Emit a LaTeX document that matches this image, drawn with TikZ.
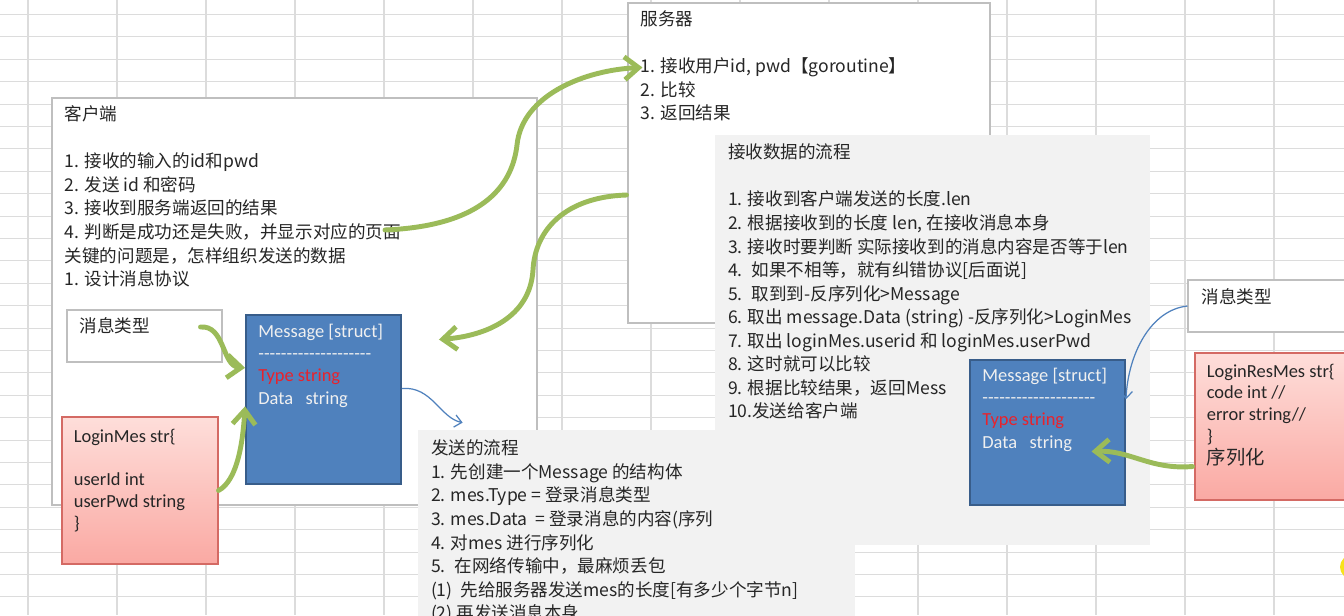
\documentclass[tikz,border=0pt]{standalone}
\usepackage{fontspec}
\setmainfont{Noto Sans CJK SC}
\newfontfamily\en{Carlito}[Ligatures=TeXOff]
\usetikzlibrary{arrows.meta, fit, positioning}

\definecolor{gridgray}{HTML}{DCDCDC}
\definecolor{boxline}{HTML}{BFBFBF}
\definecolor{flowgray}{HTML}{F2F2F2}
\definecolor{msgblue}{HTML}{4F81BD}
\definecolor{msgline}{HTML}{385D8A}
\definecolor{pinktop}{HTML}{FEDEDA}
\definecolor{pinkbot}{HTML}{FAA9A3}
\definecolor{pinkline}{HTML}{D46A64}
\definecolor{arrowgreen}{HTML}{9BBB59}
\definecolor{typered}{HTML}{E8222C}
\definecolor{inkgray}{HTML}{262626}
\definecolor{cursor}{HTML}{F7E21B}

\tikzset{
  gridline/.style={gridgray, line width=0.6pt},
  whitebox/.style={draw=boxline, fill=white, line width=0.6pt, inner sep=0pt},
  flowbox/.style={fill=flowgray, inner sep=0pt},
  structbox/.style={draw=msgline, fill=msgblue, line width=1.1pt, inner sep=0pt},
  pinkbox/.style={draw=pinkline, top color=pinktop, bottom color=pinkbot, line width=0.6pt, inner sep=0pt},
  zhtext/.style={anchor=north west, inner sep=0pt, align=left, text=inkgray, font=\fontsize{10}{13.4}\selectfont},
  entext/.style={anchor=north west, inner sep=0pt, align=left, text=inkgray, font=\en\fontsize{10.5}{12.4}\selectfont},
  fieldtext/.style={entext, text=white!94!black, font=\en\fontsize{10.5}{12.6}\selectfont},
  bigarrow/.style={arrowgreen, line width=2.8pt, line cap=round, -{Straight Barb[length=8pt, width=13pt]}},
  thinarrow/.style={msgblue, line width=0.7pt, -{Straight Barb[length=4pt, width=7pt]}}
}

\begin{document}
\begin{tikzpicture}[x=0.02cm, y=-0.02cm]
\useasboundingbox (0,0) rectangle (1344,615);
\fill[white] (0,0) rectangle (1344,615);

% spreadsheet grid
\foreach \gx in {28,117,...,1274}
  \draw[gridline] (\gx,0) -- (\gx,615);
\foreach \k in {0,...,26}
  \draw[gridline] (0,{14.5+22.4*\k}) -- (1344,{14.5+22.4*\k});

% server
\node[whitebox, fit={(628,3) (990,323)}] (server) {};
\node[zhtext, below right=0.16cm and 0.26cm of server.north west] (servertext) {服务器\\[13.4pt]
  1. 接收用户id, pwd【goroutine】\\
  2. 比较\\
  3. 返回结果};

% client
\node[whitebox, fit={(52,98) (537,505)}] (client) {};
\node[zhtext, below right=0.16cm and 0.26cm of client.north west] (clienttext) {客户端\\[13.4pt]
  1. 接收的输入的id和pwd\\
  2. 发送 id 和密码\\
  3. 接收到服务端返回的结果\\
  4. 判断是成功还是失败，并显示对应的页面\\
  关键的问题是，怎样组织发送的数据\\
  1. 设计消息协议};

\node[whitebox, fit={(67,310) (222,362)}] (msgtype) {};
\node[zhtext, below right=0.16cm and 0.26cm of msgtype.north west] (msgtypetext) {消息类型};

\node[structbox, fit={(246,315) (401,484)}] (message) {};
\node[fieldtext, below right=0.2cm and 0.26cm of message.north west] (messagetext) {Message [struct]\\
  --------------------\\
  \textcolor{typered}{Type string}\\
  Data~~~string};

\node[pinkbox, fit={(62,417) (218,564)}] (loginmes) {};
\node[entext, below right=0.24cm and 0.24cm of loginmes.north west] (loginmestext) {LoginMes str\{\\[12.4pt]
  userId int\\
  userPwd string\\
  \}};

% send flow
\node[flowbox, fit={(418,430) (855,640)}] (sendflow) {};
\node[zhtext, below right=0.2cm and 0.26cm of sendflow.north west] (sendtext) {发送的流程\\
  1. 先创建一个Message 的结构体\\
  2. mes.Type = 登录消息类型\\
  3. mes.Data \ = 登录消息的内容(序列\\
  4. 对mes 进行序列化\\
  5. \ 在网络传输中，最麻烦丢包\\
  (1) \ 先给服务器发送mes的长度[有多少个字节n]\\
  (2) 再发送消息本身};

% receive flow
\node[flowbox, fit={(715,135) (1150,545)}] (recvflow) {};
\node[zhtext, below right=0.18cm and 0.26cm of recvflow.north west] (recvtext) {接收数据的流程\\[13.4pt]
  1. 接收到客户端发送的长度.len\\
  2. 根据接收到的长度 len, 在接收消息本身\\
  3. 接收时要判断 实际接收到的消息内容是否等于len\\
  4. \ 如果不相等，就有纠错协议[后面说]\\
  5. \ 取到到-反序列化>Message\\
  6. 取出 message.Data (string) -反序列化>LoginMes\\
  7. 取出 loginMes.userid 和 loginMes.userPwd\\
  8. 这时就可以比较\\
  9. 根据比较结果，返回Mess\\
  10.发送给客户端};

\node[structbox, fit={(970,360) (1125,505)}] (resmessage) {};
\node[fieldtext, below right=0.18cm and 0.26cm of resmessage.north west] (resmessagetext) {Message [struct]\\
  --------------------\\
  \textcolor{typered}{Type string}\\
  Data~~~string};

\node[whitebox, fit={(1188,280) (1360,332)}] (resmsgtype) {};
\node[zhtext, below right=0.18cm and 0.28cm of resmsgtype.north west] (resmsgtypetext) {消息类型};

\node[pinkbox, fit={(1195,353) (1360,500)}] (loginresmes) {};
\node[entext, below right=0.22cm and 0.24cm of loginresmes.north west] (loginresmestext) {LoginResMes str\{\\
  code int //\\
  error string//\\
  \}\\
  {\normalfont\fontsize{11}{13}\selectfont 序列化}};

% connectors
\coordinate (loginstep) at (385,230);
\draw[bigarrow] (loginstep) .. controls (480,226) and (512,188) .. (517,145)
  .. controls (522,95) and (585,70) .. ([shift={(15,65)}]server.north west);
\draw[bigarrow] ([shift={(-1,32)}]server.west) .. controls (565,197) and (535,230) .. (533,270)
  .. controls (530,318) and (485,336) .. ([shift={(37,-60)}]message.east);
\draw[bigarrow] ([shift={(-22,-9)}]msgtype.east) .. controls (225,325) and (222,366) .. (message.158);
\draw[bigarrow] (loginmes.east) .. controls (238,480) and (243,440) .. (message.185);
\draw[thinarrow] (message.8) .. controls (432,386) and (440,418) .. ([shift={(45,-7)}]sendflow.north west);
\draw[thinarrow] (resmsgtype.west) .. controls (1150,310) and (1128,355) .. (resmessage.23);
\draw[bigarrow] ([shift={(-2,40)}]loginresmes.west) .. controls (1150,470) and (1130,450) .. ([shift={(44,19)}]resmessage.center);

% cursor mark
\fill[cursor] (1352,567) circle (12);
\end{tikzpicture}
\end{document}
